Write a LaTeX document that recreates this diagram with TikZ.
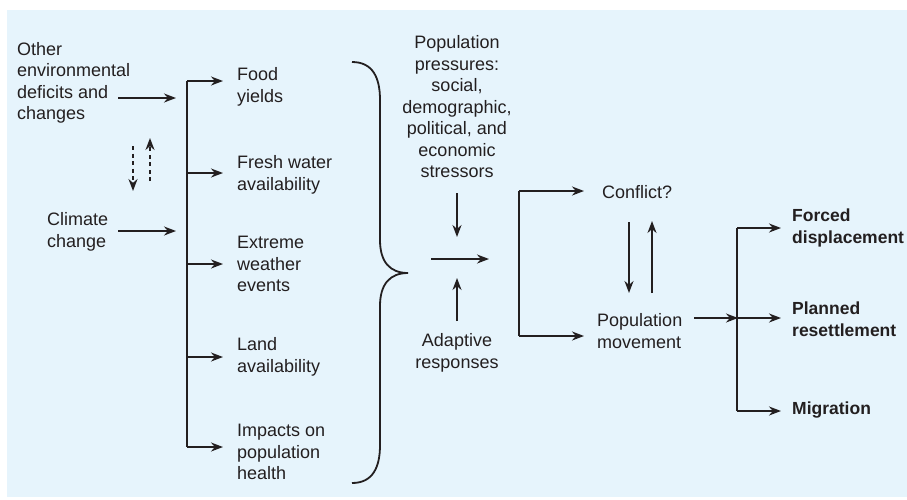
\documentclass[tikz,border=0pt]{standalone}
\usepackage{fontspec}
\setmainfont{Liberation Sans}
\usetikzlibrary{arrows.meta}
\definecolor{bgblue}{HTML}{E6F4FC}
\definecolor{ink}{HTML}{231F20}
\begin{document}
\begin{tikzpicture}[x=1pt,y=-1pt,
  lbl/.style={inner sep=0pt, font=\fontsize{18}{21.5}\selectfont, text=ink},
  lleft/.style={lbl, align=left, anchor=west},
  lcent/.style={lbl, align=center, anchor=center},
  lbold/.style={lleft, font=\fontsize{17.5}{21.5}\selectfont\bfseries},
  arr/.style={-{Stealth[length=12pt,width=9pt]}, line width=1.8pt, draw=ink},
  ln/.style={line width=1.8pt, draw=ink},
  darr/.style={arr, dash pattern=on 4pt off 3.5pt}]
\useasboundingbox (0,0) rectangle (907,499);
\fill[white] (0,0) rectangle (907,499);
\fill[bgblue] (7,10) rectangle (907,497);

% left inputs
\node[lleft] (other) at (17,83) {Other\\environmental\\deficits and\\changes};
\node[lleft] (climate) at (47,232) {Climate\\change};
\coordinate (oa) at (118,98);
\coordinate (ob) at (176,98);
\coordinate (ca) at (118,231);
\coordinate (cb) at (176,231);
\draw[arr] (oa) -- (ob);
\draw[arr] (ca) -- (cb);
\coordinate (d1a) at (133,146);
\coordinate (d1b) at (133,191);
\coordinate (d2a) at (150,181);
\coordinate (d2b) at (150,138);
\draw[darr] (d1a) -- (d1b);
\draw[darr] (d2a) -- (d2b);

% bar and impacts
\coordinate (bt) at (187,81);
\coordinate (bb) at (187,447);
\draw[ln] (bt) -- (bb);
\node[lleft] (food) at (237,87) {Food\\yields};
\node[lleft] (water) at (237,175) {Fresh water\\availability};
\node[lleft] (extreme) at (237,264) {Extreme\\weather\\events};
\node[lleft] (land) at (237,357) {Land\\availability};
\node[lleft] (health) at (237,452) {Impacts on\\population\\health};
\foreach \y/\n in {81/food,173/water,264/extreme,357/land,447/health}{
  \coordinate (s\n) at (187,\y);
  \coordinate (e\n) at (223,\y);
  \draw[arr] (s\n) -- (e\n);
}

% brace
\draw[ln] (352,62) .. controls (373,62) and (380,78) .. (380,100)
  -- (380,240) .. controls (380,262) and (390,273) .. (408,273)
  .. controls (390,273) and (380,284) .. (380,306)
  -- (380,445) .. controls (380,467) and (373,483) .. (352,483);

% middle
\node[lcent] (press) at (457,107) {Population\\pressures:\\social,\\demographic,\\political, and\\economic\\stressors};
\node[lcent] (adapt) at (457,353) {Adaptive\\responses};
\coordinate (pa) at (457,193);
\coordinate (pb) at (457,237);
\coordinate (aa) at (457,321);
\coordinate (ab) at (457,278);
\coordinate (ma) at (431,259);
\coordinate (mb) at (489,259);
\draw[arr] (pa) -- (pb);
\draw[arr] (aa) -- (ab);
\draw[arr] (ma) -- (mb);

% conflict / movement
\coordinate (kt) at (519,191);
\coordinate (kb) at (519,336);
\coordinate (kte) at (584,191);
\coordinate (kbe) at (584,336);
\draw[ln] (kt) -- (kb);
\draw[arr] (kt) -- (kte);
\draw[arr] (kb) -- (kbe);
\node[lleft] (conflict) at (602,192) {Conflict?};
\node[lleft] (move) at (597,331) {Population\\movement};
\coordinate (c1a) at (629,222);
\coordinate (c1b) at (629,293);
\coordinate (c2a) at (652,293);
\coordinate (c2b) at (652,221);
\draw[arr] (c1a) -- (c1b);
\draw[arr] (c2a) -- (c2b);

% outcomes
\coordinate (mva) at (694,318);
\coordinate (mvb) at (738,318);
\draw[arr] (mva) -- (mvb);
\coordinate (ot) at (737,228);
\coordinate (ob2) at (737,411);
\draw[ln] (ot) -- (ob2);
\node[lbold] (forced) at (792,228) {Forced\\displacement};
\node[lbold] (planned) at (792,319) {Planned\\resettlement};
\node[lbold] (migr) at (792,410) {Migration};
\foreach \y/\n in {228/forced,318/planned,411/migr}{
  \coordinate (t\n) at (737,\y);
  \coordinate (u\n) at (781,\y);
  \draw[arr] (t\n) -- (u\n);
}
\end{tikzpicture}
\end{document}
